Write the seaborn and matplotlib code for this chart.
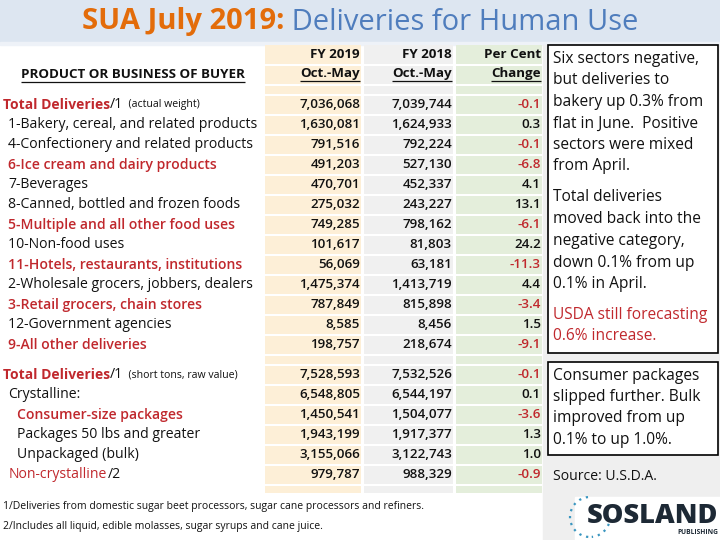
import matplotlib
matplotlib.use("Agg")
import matplotlib.pyplot as plt
import seaborn as sns
from matplotlib.patches import Rectangle, Arc

sns.set_theme(style="white")
plt.rcParams['font.family'] = ['Open Sans', 'DejaVu Sans']

# ---------------- data ----------------
title_a = "SUA July 2019:"
title_b = " Deliveries for Human Use"

col_heads_1 = ["FY 2019", "FY 2018", "Per Cent"]
col_heads_2 = ["Oct.-May", "Oct.-May", "Change"]
row_head = "PRODUCT OR BUSINESS OF BUYER"

labels_top = ["1-Bakery, cereal, and related products",
              "4-Confectionery and related products",
              "6-Ice cream and dairy products",
              "7-Beverages",
              "8-Canned, bottled and frozen foods",
              "5-Multiple and all other food uses",
              "10-Non-food uses",
              "11-Hotels, restaurants, institutions",
              "2-Wholesale grocers, jobbers, dealers",
              "3-Retail grocers, chain stores",
              "12-Government agencies",
              "9-All other deliveries"]
red_top = [False, False, True, False, False, True, False, True, False, True, False, True]
fy2019_top = [7036068, 1630081, 791516, 491203, 470701, 275032, 749285,
              101617, 56069, 1475374, 787849, 8585, 198757]
fy2018_top = [7039744, 1624933, 792224, 527130, 452337, 243227, 798162,
              81803, 63181, 1413719, 815898, 8456, 218674]
pct_top = [-0.1, 0.3, -0.1, -6.8, 4.1, 13.1, -6.1, 24.2, -11.3, 4.4, -3.4, 1.5, -9.1]

labels_bot = ["Crystalline:", "Consumer-size packages", "Packages 50 lbs and greater",
              "Unpackaged (bulk)", "Non-crystalline"]
indent_bot = [8, 17, 17, 17, 9]
red_bot = [False, True, False, False, True]
fy2019_bot = [7528593, 6548805, 1450541, 1943199, 3155066, 979787]
fy2018_bot = [7532526, 6544197, 1504077, 1917377, 3122743, 988329]
pct_bot = [-0.1, 0.1, -3.6, 1.3, 1.0, -0.9]

box1_lines = [("Six sectors negative,", "k"), ("but deliveries to", "k"),
              ("bakery up 0.3% from", "k"), ("flat in June.  Positive", "k"),
              ("sectors were mixed", "k"), ("from April.", "k"),
              ("Total deliveries", "k"), ("moved back into the", "k"),
              ("negative category,", "k"), ("down 0.1% from up", "k"),
              ("0.1% in April.", "k"),
              ("USDA still forecasting", "red"), ("0.6% increase.", "red")]
box1_y = [59, 80, 102, 124, 145, 166, 197, 219, 241, 263, 284, 315, 336]
box2_lines = ["Consumer packages", "slipped further. Bulk", "improved from up", "0.1% to up 1.0%."]
box2_y = [376, 397, 418, 440]

footnotes = ["1/Deliveries from domestic sugar beet processors, sugar cane processors and refiners.",
             "2/Includes all liquid, edible molasses, sugar syrups and cane juice."]

# ---------------- style ----------------
RED = "#c0282d"
ORANGE = "#e36c0a"
BLUE = "#4f7dbd"
COLS = ["#fdefd7", "#f0f0f0", "#e4eedb"]
COL_X = [(265, 361), (364, 453), (456, 542)]

fig = plt.figure(figsize=(7.2, 5.4), dpi=100)
ax = fig.add_axes([0, 0, 1, 1])
ax.set_xlim(0, 720)
ax.set_ylim(540, 0)
ax.axis('off')
fig.canvas.draw()
renderer = fig.canvas.get_renderer()


def width_of(t):
    return t.get_window_extent(renderer=renderer).width


def runs(x, y, parts, ha='left'):
    objs = []
    cx = x
    for s, kw in parts:
        t = ax.text(cx, y, s, va='center', ha='left', **kw)
        cx += width_of(t)
        objs.append(t)
    total = cx - x
    if ha == 'center':
        for t in objs:
            t.set_x(t.get_position()[0] - total / 2)
    return objs


def underline(t, dy=7, lw=0.9):
    bb = t.get_window_extent(renderer=renderer)
    x0, x1 = bb.x0, bb.x1
    y = t.get_position()[1] + dy
    ax.plot([x0, x1], [y, y], color=t.get_color(), lw=lw, solid_capstyle='butt')


# backgrounds
ax.add_patch(Rectangle((0, 0), 720, 42, color="#dde6f1", zorder=0))
ax.add_patch(Rectangle((0, 42), 720, 3, color="#eef2f8", zorder=0))
ax.add_patch(Rectangle((543, 45), 177, 495, color="#efefef", zorder=0))

# title
runs(360, 22, [(title_a, dict(color=ORANGE, fontsize=21, fontweight='bold')),
               (title_b, dict(color=BLUE, fontsize=21))], ha='center')

# table cell backgrounds
row_spans = [(44, 65), (65, 85), (85, 95)]
row_spans += [(95 + 20 * i, 115 + 20 * i) for i in range(len(fy2019_top))]
row_spans += [(355, 365)]
row_spans += [(365 + 20 * i, 385 + 20 * i) for i in range(len(fy2019_bot))]
row_spans += [(485, 494)]
for (x0, x1), c in zip(COL_X, COLS):
    tops = [a + 1 for a, b in row_spans]
    hts = [b - a - 2 for a, b in row_spans]
    ax.bar([x0] * len(tops), hts, width=x1 - x0, bottom=tops, align='edge',
           color=c, linewidth=0, zorder=1)

NUMF = dict(fontsize=9.6, fontweight='semibold', color='#111111', zorder=3)
HF = dict(fontsize=9.6, fontweight='bold', color='#111111', zorder=3)
LF = dict(fontsize=10.1, color='#111111', zorder=3)

# headers
for (x0, x1), h1, h2 in zip(COL_X, col_heads_1, col_heads_2):
    ax.text(x1 - 1, 55, h1, ha='right', va='center', **HF)
    t = ax.text(x1 - 1, 74, h2, ha='right', va='center', **HF)
    underline(t, dy=7)
t = ax.text(133, 75, row_head, ha='center', va='center', **HF)
underline(t, dy=7)


def num_row(y, a, b, p):
    ax.text(COL_X[0][1] - 1, y, f"{a:,}", ha='right', va='center', **NUMF)
    ax.text(COL_X[1][1] - 1, y, f"{b:,}", ha='right', va='center', **NUMF)
    ax.text(COL_X[2][1] - 1, y, f"{p:.1f}", ha='right', va='center',
            **{**NUMF, 'color': RED if p < 0 else '#111111'})


# top block
ys = [105 + 20 * i for i in range(len(fy2019_top))]
runs(3, ys[0], [("Total Deliveries", dict(color=RED, fontsize=10, fontweight='bold')),
                ("/1", dict(color='#111111', fontsize=10.2)),
                ("  (actual weight)", dict(color='#111111', fontsize=7.6))])
for y, lab, r in zip(ys[1:], labels_top, red_top):
    ax.text(8, y, lab, ha='left', va='center',
            **{**LF, 'color': RED if r else '#111111', 'fontweight': 'semibold' if r else 'normal'})
for y, a, b, p in zip(ys, fy2019_top, fy2018_top, pct_top):
    num_row(y, a, b, p)

# bottom block
ys2 = [375 + 20 * i for i in range(len(fy2019_bot))]
runs(3, ys2[0], [("Total Deliveries", dict(color=RED, fontsize=10, fontweight='bold')),
                 ("/1", dict(color='#111111', fontsize=10.2)),
                 ("  (short tons, raw value)", dict(color='#111111', fontsize=7.6))])
for y, lab, ind, r in zip(ys2[1:], labels_bot, indent_bot, red_bot):
    if lab == "Non-crystalline":
        runs(ind, y, [(lab, dict(color=RED, fontsize=10.1)), ("/2", dict(color='#111111', fontsize=10.1))])
    else:
        ax.text(ind, y, lab, ha='left', va='center',
                **{**LF, 'color': RED if r else '#111111', 'fontweight': 'semibold' if r else 'normal'})
for y, a, b, p in zip(ys2, fy2019_bot, fy2018_bot, pct_bot):
    num_row(y, a, b, p)

# footnotes
for y, s in zip([506, 526], footnotes):
    ax.text(3, y, s, ha='left', va='center', fontsize=7.5, color='#111111')

# right boxes
ax.add_patch(Rectangle((548, 45), 170, 308, facecolor='white', edgecolor='black', lw=1.2, zorder=2))
ax.add_patch(Rectangle((548, 362), 170, 93, facecolor='white', edgecolor='black', lw=1.2, zorder=2))
for (s, c), y in zip(box1_lines, box1_y):
    ax.text(553, y, s, ha='left', va='center', fontsize=11.2, color=RED if c == 'red' else '#111111', zorder=3)
for s, y in zip(box2_lines, box2_y):
    ax.text(553, y, s, ha='left', va='center', fontsize=11.2, color='#111111', zorder=3)
ax.text(553, 476, "Source: U.S.D.A.", ha='left', va='center', fontsize=10.1, color='#111111', zorder=3)

# logo
ax.add_patch(Rectangle((575, 497), 145, 43, color='white', zorder=2))
ax.add_patch(Arc((590, 517), 40, 40, theta1=95, theta2=265, color='#3a96c0', lw=1.6,
                 linestyle=(0, (1, 2.2)), zorder=3))
ax.add_patch(Arc((590, 517), 40, 40, theta1=20, theta2=85, color='#3a96c0', lw=1.6,
                 linestyle=(0, (1, 2.2)), zorder=3))
ax.text(718, 516, "SOSLAND", ha='right', va='center', fontsize=19.5, fontweight='heavy',
        color='#1d2935', zorder=4)
ax.text(718, 533, "PUBLISHING", ha='right', va='center', fontsize=4.8, fontweight='bold',
        color='#1d2935', zorder=4)

fig.savefig("out.png", dpi=100)
